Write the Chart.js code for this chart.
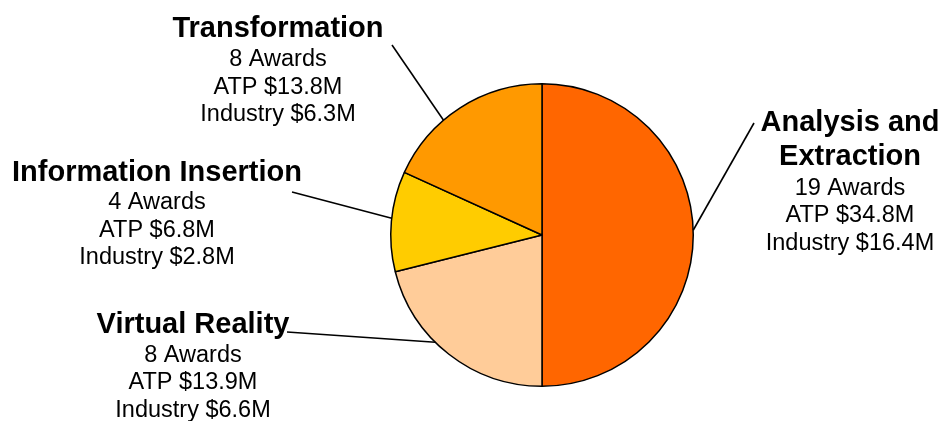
<!DOCTYPE html>
<html>
<head>
<meta charset="utf-8">
<script src="https://cdn.jsdelivr.net/npm/chart.js@4/dist/chart.umd.min.js"></script>
<style>
html,body{margin:0;padding:0;background:#fff;}
canvas{display:block;}
</style>
</head>
<body>
<canvas id="c" width="942" height="421"></canvas>
<script>
// ---- data ----
const categories = [['Analysis and', 'Extraction'], 'Virtual Reality', 'Information Insertion', 'Transformation'];
const shares = [50.0, 21.1, 10.7, 18.2];           // slice sizes (% of pie)
const awards = [19, 8, 4, 8];
const atpFunding = [34.8, 13.9, 6.8, 13.8];        // $M
const industryFunding = [16.4, 6.6, 2.8, 6.3];     // $M
const sliceColors = ['#FF6600', '#FFCC99', '#FFCC00', '#FF9900'];

// ---- label layout (positions only) ----
const labelLayout = [
  { cx: 850, titleY: 121, firstLineY: 186.7, anchorX: 754, anchorY: 123, frac: 0.49 },
  { cx: 193, titleY: 323, firstLineY: 353.5, anchorX: 287, anchorY: 332, frac: 0.59 },
  { cx: 157, titleY: 171, firstLineY: 201, anchorX: 292, anchorY: 192, frac: 0.53 },
  { cx: 278, titleY: 26.5, firstLineY: 58, anchorX: 392, anchorY: 45, frac: 0.38 }
];

const FONT = '"Liberation Sans", Arial, Helvetica, sans-serif';
const TITLE_SIZE = 29, TITLE_LH = 33.7;
const BODY_SIZE = 23.5, BODY_LH = 27.3;

const labelPlugin = {
  id: 'calloutLabels',
  afterDatasetsDraw(chart) {
    const ctx = chart.ctx;
    const meta = chart.getDatasetMeta(0);
    ctx.save();
    meta.data.forEach((arc, i) => {
      const L = labelLayout[i];
      const p = arc.getProps(['x', 'y', 'startAngle', 'endAngle', 'outerRadius'], true);
      const a = p.startAngle + L.frac * (p.endAngle - p.startAngle);
      const ex = p.x + Math.cos(a) * p.outerRadius;
      const ey = p.y + Math.sin(a) * p.outerRadius;
      ctx.beginPath();
      ctx.strokeStyle = '#000';
      ctx.lineWidth = 1.6;
      ctx.moveTo(L.anchorX, L.anchorY);
      ctx.lineTo(ex, ey);
      ctx.stroke();

      ctx.fillStyle = '#000';
      ctx.textAlign = 'center';
      ctx.textBaseline = 'alphabetic';
      const title = chart.data.labels[i];
      const titleLines = Array.isArray(title) ? title : [title];
      ctx.font = 'bold ' + TITLE_SIZE + 'px ' + FONT;
      titleLines.forEach((t, k) => {
        ctx.fillText(t, L.cx, L.titleY + k * TITLE_LH + TITLE_SIZE * 0.358);
      });
      const body = [
        awards[i] + ' Awards',
        'ATP $' + atpFunding[i].toFixed(1) + 'M',
        'Industry $' + industryFunding[i].toFixed(1) + 'M'
      ];
      ctx.font = BODY_SIZE + 'px ' + FONT;
      body.forEach((t, k) => {
        ctx.fillText(t, L.cx, L.firstLineY + k * BODY_LH + BODY_SIZE * 0.358);
      });
    });
    ctx.restore();
  }
};

new Chart(document.getElementById('c'), {
  type: 'pie',
  data: {
    labels: categories,
    datasets: [{
      data: shares,
      backgroundColor: sliceColors,
      borderColor: '#000',
      borderWidth: 1.5,
      borderAlign: 'center'
    }]
  },
  options: {
    responsive: false,
    devicePixelRatio: 1,
    animation: false,
    layout: { padding: { left: 390, right: 248, top: 83, bottom: 34 } },
    plugins: {
      legend: { display: false },
      tooltip: { enabled: false },
      title: { display: false }
    }
  },
  plugins: [labelPlugin]
});
</script>
</body>
</html>
